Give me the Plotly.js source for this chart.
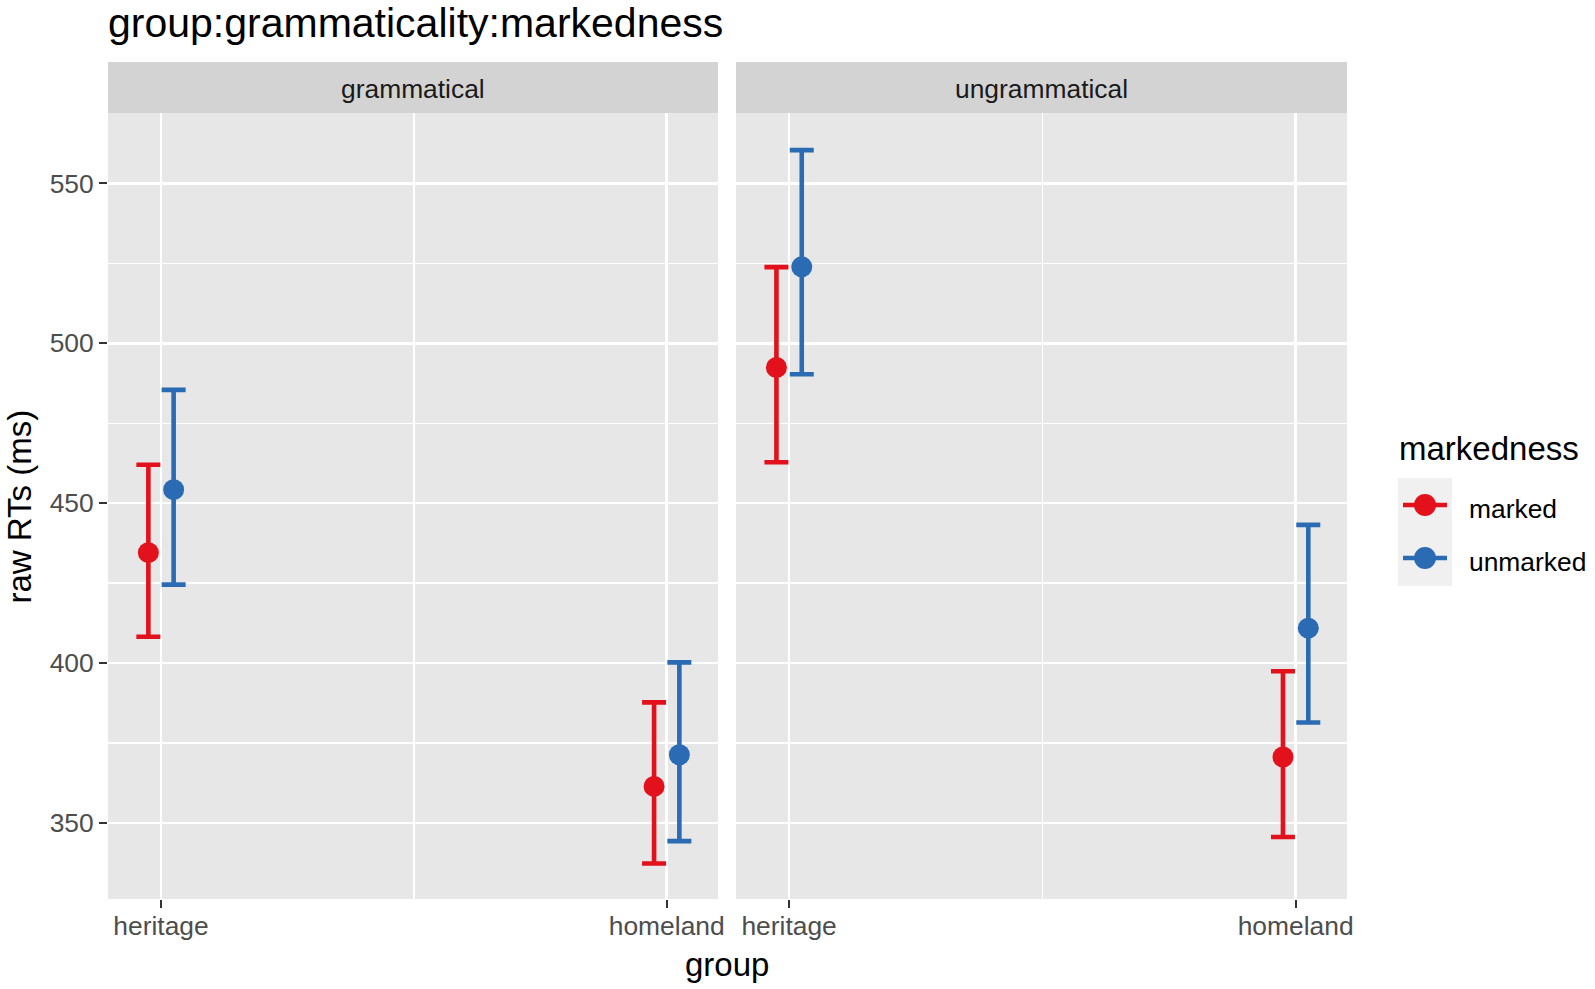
<!DOCTYPE html>
<html>
<head>
<meta charset="utf-8">
<script src="https://cdn.plot.ly/plotly-3.0.1.min.js"></script>
<style>html,body{margin:0;padding:0;background:#fff;}</style>
</head>
<body>
<div id="chart" style="width:1595px;height:989px;"></div>
<script>
// ---- data ----
var groups = ['heritage', 'homeland'];
var panels = ['grammatical', 'ungrammatical'];
var markedness = ['marked', 'unmarked'];

var gramMarkedMean    = [434.5, 361.4];
var gramMarkedLower   = [408.2, 337.3];
var gramMarkedUpper   = [462.0, 387.7];

var gramUnmarkedMean  = [454.2, 371.3];
var gramUnmarkedLower = [424.5, 344.3];
var gramUnmarkedUpper = [485.4, 400.2];

var ungramMarkedMean    = [492.4, 370.6];
var ungramMarkedLower   = [462.8, 345.6];
var ungramMarkedUpper   = [523.8, 397.4];

var ungramUnmarkedMean  = [523.9, 410.9];
var ungramUnmarkedLower = [490.3, 381.4];
var ungramUnmarkedUpper = [560.4, 443.2];

var yTickVals = [350, 400, 450, 500, 550];

// ---- styling ----
var FONT = '"Liberation Sans", Arial, Helvetica, sans-serif';
var colors = {marked: '#E3111B', unmarked: '#2A6BB3'};
var dodge = {marked: -0.025, unmarked: 0.025};
var PANEL_BG = '#E7E7E7', STRIP_BG = '#D3D3D3';

function xpos(offset) { return groups.map(function (g, i) { return i + offset; }); }
function diff(a, b) { return a.map(function (v, i) { return v - b[i]; }); }

function pointTrace(mean, lower, upper, mk, xaxis) {
  return {
    type: 'scatter', mode: 'markers',
    x: xpos(dodge[mk]), y: mean, xaxis: xaxis, yaxis: 'y',
    name: mk, showlegend: false, hoverinfo: 'y',
    marker: {color: colors[mk], size: 21},
    error_y: {type: 'data', symmetric: false,
      array: diff(upper, mean), arrayminus: diff(mean, lower),
      color: colors[mk], thickness: 4.6, width: 12}
  };
}

var traces = [
  pointTrace(gramMarkedMean, gramMarkedLower, gramMarkedUpper, 'marked', 'x'),
  pointTrace(gramUnmarkedMean, gramUnmarkedLower, gramUnmarkedUpper, 'unmarked', 'x'),
  pointTrace(ungramMarkedMean, ungramMarkedLower, ungramMarkedUpper, 'marked', 'x2'),
  pointTrace(ungramUnmarkedMean, ungramUnmarkedLower, ungramUnmarkedUpper, 'unmarked', 'x2')
];

var W = 1595, H = 989, ML = 108, MR = 248, MT = 113, MB = 90;
var PW = W - ML - MR, PH = H - MT - MB;
function px(x) { return (x - ML) / PW; }     // pixel -> paper x
function py(y) { return (H - MB - y) / PH; } // pixel -> paper y
var leftEnd = 610 / PW, rightStart = 628 / PW;
var xr = [-0.1048, 1.1014];

function xaxisDef(domain) {
  return {
    domain: domain, range: xr, anchor: 'y',
    tickmode: 'array', tickvals: [0, 1], ticktext: groups,
    ticks: 'outside', ticklen: 8, tickwidth: 2, tickcolor: '#333333',
    tickfont: {family: FONT, size: 26.4, color: '#4D4D4D'},
    ticklabelstandoff: -5,
    showgrid: true, gridcolor: '#FFFFFF', gridwidth: 2.6,
    minor: {tickmode: 'array', tickvals: [0.5], showgrid: true, gridcolor: '#FFFFFF', gridwidth: 1.3, ticks: ''},
    zeroline: false, showline: false, fixedrange: true
  };
}

var shapes = [];
['x', 'x2'].forEach(function (ax) {
  shapes.push({type: 'rect', xref: ax + ' domain', yref: 'y domain', x0: 0, x1: 1, y0: 0, y1: 1,
    fillcolor: PANEL_BG, line: {width: 0}, layer: 'below'});
  shapes.push({type: 'rect', xref: ax + ' domain', yref: 'paper', x0: 0, x1: 1, y0: 1, y1: 1 + 51 / PH,
    fillcolor: STRIP_BG, line: {width: 0}, layer: 'below'});
});

// legend (ggplot style): key background, key glyphs and labels
var legendKeyY = {marked: 505, unmarked: 558};
shapes.push({type: 'rect', xref: 'paper', yref: 'paper',
  x0: px(1398), x1: px(1452), y0: py(586), y1: py(478),
  fillcolor: '#F0F0F0', line: {width: 0}, layer: 'below'});
markedness.forEach(function (mk) {
  var ky = legendKeyY[mk];
  shapes.push({type: 'line', xref: 'paper', yref: 'paper', x0: px(1403), x1: px(1447), y0: py(ky), y1: py(ky),
    line: {color: colors[mk], width: 4.6}, layer: 'above'});
  shapes.push({type: 'circle', xref: 'paper', yref: 'paper', x0: px(1425 - 11), x1: px(1425 + 11),
    y0: py(ky + 11), y1: py(ky - 11), fillcolor: colors[mk], line: {width: 0}, layer: 'above'});
});

var annotations = [
  {xref: 'x domain', yref: 'paper', x: 0.5, y: 1 + 24.5 / PH, text: panels[0], showarrow: false,
    xanchor: 'center', yanchor: 'middle', font: {family: FONT, size: 26.4, color: '#1A1A1A'}},
  {xref: 'x2 domain', yref: 'paper', x: 0.5, y: 1 + 24.5 / PH, text: panels[1], showarrow: false,
    xanchor: 'center', yanchor: 'middle', font: {family: FONT, size: 26.4, color: '#1A1A1A'}},
  {xref: 'paper', yref: 'paper', x: px(727), y: py(964.5), text: 'group', showarrow: false,
    xanchor: 'center', yanchor: 'middle', font: {family: FONT, size: 33, color: '#000000'}},
  {xref: 'paper', yref: 'paper', x: px(18.5), y: py(507), text: 'raw RTs (ms)', showarrow: false,
    textangle: -90, xanchor: 'center', yanchor: 'middle', font: {family: FONT, size: 33, color: '#000000'}},
  {xref: 'paper', yref: 'paper', x: px(1397), y: py(448.5), text: 'markedness', showarrow: false,
    xanchor: 'left', yanchor: 'middle', font: {family: FONT, size: 33, color: '#000000'}}
];
markedness.forEach(function (mk) {
  annotations.push({xref: 'paper', yref: 'paper', x: px(1467), y: py(legendKeyY[mk] + 3.5), text: mk,
    showarrow: false, xanchor: 'left', yanchor: 'middle', font: {family: FONT, size: 26.4, color: '#000000'}});
});

var layout = {
  width: W, height: H,
  margin: {l: ML, r: MR, t: MT, b: MB, pad: 0},
  paper_bgcolor: '#FFFFFF', plot_bgcolor: 'rgba(0,0,0,0)',
  font: {family: FONT, color: '#000000'},
  title: {text: 'group:grammaticality:markedness', x: 108 / W, xanchor: 'left', xref: 'container',
    y: 1 - 23 / H, yanchor: 'middle', yref: 'container', font: {family: FONT, size: 41, color: '#000000'}},
  xaxis: xaxisDef([0, leftEnd]),
  xaxis2: xaxisDef([rightStart, 1]),
  yaxis: {
    domain: [0, 1], range: [326.2, 572.0], anchor: 'x',
    tickmode: 'array', tickvals: yTickVals,
    ticks: 'outside', ticklen: 8, tickwidth: 2, tickcolor: '#333333',
    tickfont: {family: FONT, size: 26.4, color: '#4D4D4D'},
    showgrid: true, gridcolor: '#FFFFFF', gridwidth: 2.6,
    minor: {tick0: 0, dtick: 25, showgrid: true, gridcolor: '#FFFFFF', gridwidth: 1.3, ticks: ''},
    zeroline: false, showline: false, fixedrange: true
  },
  showlegend: false,
  shapes: shapes,
  annotations: annotations,
  hovermode: false
};

Plotly.newPlot('chart', traces, layout, {staticPlot: true, displayModeBar: false});
</script>
</body>
</html>
